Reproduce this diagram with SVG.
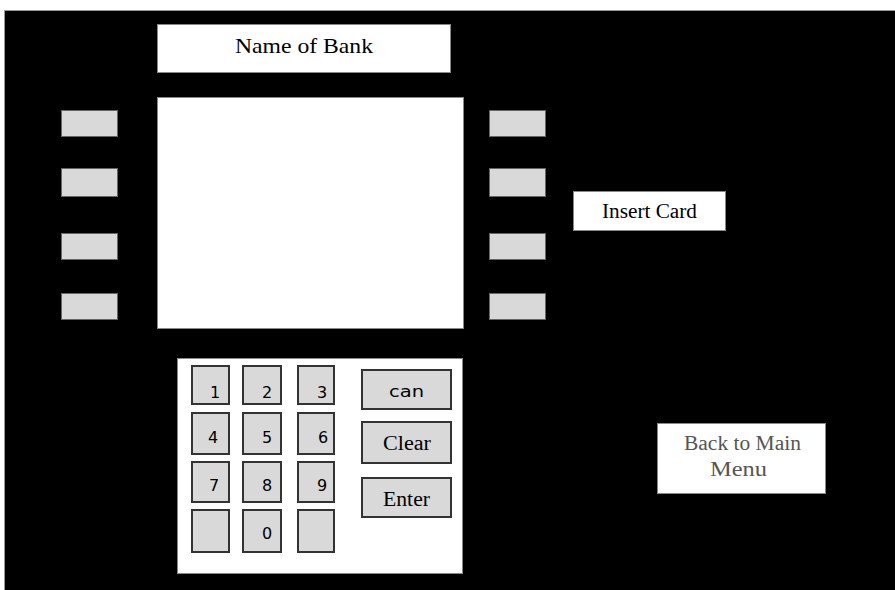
<svg xmlns="http://www.w3.org/2000/svg" width="895" height="590" viewBox="0 0 895 590">
<style>
.box{fill:#fff;stroke:#888;stroke-width:1}
.side{fill:#d9d9d9;stroke:#666;stroke-width:1}
.key{fill:#d9d9d9;stroke:#333;stroke-width:2}
.serif{font-family:"Liberation Serif",serif;fill:#000;text-anchor:middle}
.sans{font-family:"DejaVu Sans","Liberation Sans",sans-serif;fill:#000;text-anchor:middle;font-size:16px}
</style>
<rect x="0" y="0" width="895" height="590" fill="#fff"/>
<rect x="4.5" y="10.5" width="891" height="580" fill="#000" stroke="#999" stroke-width="1"/>
<g id="bank-name">
<rect class="box" x="157.5" y="24.5" width="293" height="48"/>
<text class="serif" x="304" y="53" font-size="21" textLength="138" lengthAdjust="spacingAndGlyphs">Name of Bank</text>
</g>
<g id="screen">
<rect class="box" x="157.5" y="97.5" width="306" height="231"/>
</g>
<g id="left-buttons">
<rect class="side" x="61.5" y="110.5" width="56" height="26"/>
<rect class="side" x="61.5" y="168.5" width="56" height="28"/>
<rect class="side" x="61.5" y="233.5" width="56" height="26"/>
<rect class="side" x="61.5" y="293.5" width="56" height="26"/>
</g>
<g id="right-buttons">
<rect class="side" x="489.5" y="110.5" width="56" height="26"/>
<rect class="side" x="489.5" y="168.5" width="56" height="28"/>
<rect class="side" x="489.5" y="233.5" width="56" height="26"/>
<rect class="side" x="489.5" y="293.5" width="56" height="26"/>
</g>
<g id="insert-card">
<rect class="box" x="573.5" y="191.5" width="152" height="39"/>
<text class="serif" x="649.5" y="218" font-size="20" textLength="95" lengthAdjust="spacingAndGlyphs">Insert Card</text>
</g>
<g id="back-to-main">
<rect class="box" x="657.5" y="423.5" width="168" height="70"/>
<text class="serif" x="742.5" y="450" font-size="20" textLength="117" lengthAdjust="spacingAndGlyphs" style="fill:#555">Back to Main</text>
<text class="serif" x="738.5" y="476" font-size="20" textLength="57" lengthAdjust="spacingAndGlyphs" style="fill:#555">Menu</text>
</g>
<g id="keypad">
<rect class="box" x="177.5" y="358.5" width="285" height="215"/>
<rect class="key" x="192" y="366" width="37" height="38"/>
<rect class="key" x="243" y="366" width="38" height="38"/>
<rect class="key" x="298" y="366" width="36" height="38"/>
<rect class="key" x="192" y="413" width="37" height="41"/>
<rect class="key" x="243" y="413" width="38" height="41"/>
<rect class="key" x="298" y="413" width="36" height="41"/>
<rect class="key" x="192" y="462" width="37" height="40"/>
<rect class="key" x="243" y="462" width="38" height="40"/>
<rect class="key" x="298" y="462" width="36" height="40"/>
<rect class="key" x="192" y="510" width="37" height="42"/>
<rect class="key" x="243" y="510" width="38" height="42"/>
<rect class="key" x="298" y="510" width="36" height="42"/>
<text class="sans" x="215" y="398">1</text>
<text class="sans" x="267" y="398">2</text>
<text class="sans" x="322" y="398">3</text>
<text class="sans" x="213" y="443">4</text>
<text class="sans" x="267" y="443">5</text>
<text class="sans" x="323" y="443">6</text>
<text class="sans" x="214" y="491">7</text>
<text class="sans" x="267" y="491">8</text>
<text class="sans" x="322" y="491">9</text>
<text class="sans" x="267" y="539">0</text>
<rect class="key" x="362" y="370" width="89" height="39"/>
<rect class="key" x="362" y="422" width="89" height="41"/>
<rect class="key" x="362" y="478" width="89" height="39"/>
<text class="sans" x="406.5" y="397" font-size="16" textLength="35" lengthAdjust="spacingAndGlyphs">can</text>
<text class="serif" x="407" y="450" font-size="20" textLength="48" lengthAdjust="spacingAndGlyphs">Clear</text>
<text class="serif" x="406.5" y="506" font-size="20" textLength="47" lengthAdjust="spacingAndGlyphs">Enter</text>
</g>
</svg>
